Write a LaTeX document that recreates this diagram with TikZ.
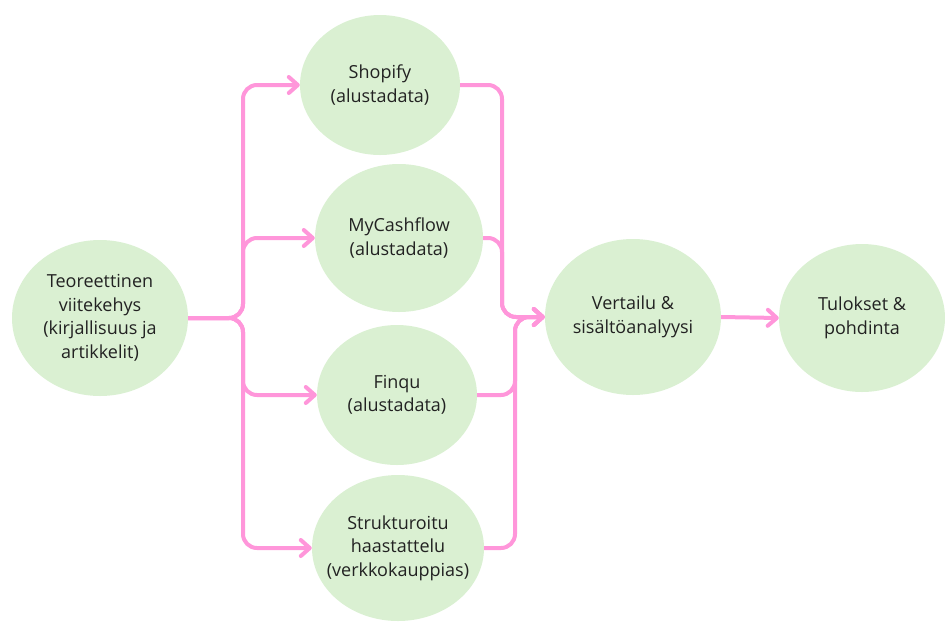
\documentclass[tikz,border=0pt]{standalone}
\usepackage{fontspec}
\setmainfont{Open Sans}
\usetikzlibrary{shapes.geometric,arrows.meta}
\definecolor{sage}{HTML}{DAF0D2}
\definecolor{rosa}{HTML}{FF96DA}
\definecolor{ink}{HTML}{222222}
\begin{document}
\begin{tikzpicture}[x=1pt,y=-1pt,
  blob/.style={ellipse,fill=sage,text=ink,align=center,inner sep=-30pt,font=\fontsize{18}{23.5}\selectfont},
  link/.style={rosa,line width=4pt,rounded corners=14pt,-{Straight Barb[length=9pt,width=16pt,round]}}]
\useasboundingbox (0,0) rectangle (945,622);
\node[blob,minimum width=176pt,minimum height=156pt] (teo) at (100,318) {Teoreettinen\\viitekehys\\(kirjallisuus ja\\artikkelit)};
\node[blob,minimum width=160pt,minimum height=140pt] (shop) at (380,85) {Shopify\\(alustadata)};
\node[blob,minimum width=168pt,minimum height=148pt] (myc) at (399,238) {MyCashflow\\(alustadata)};
\node[blob,minimum width=160pt,minimum height=140pt] (fin) at (397,395) {Finqu\\(alustadata)};
\node[blob,minimum width=172pt,minimum height=146pt] (struk) at (398,548) {Strukturoitu\\haastattelu\\(verkkokauppias)};
\node[blob,minimum width=176pt,minimum height=156pt] (vert) at (633,317) {Vertailu \&\\sisältöanalyysi};
\node[blob,minimum width=166pt,minimum height=148pt] (tul) at (862,318) {Tulokset \&\\pohdinta};
\coordinate (split) at (243,318);
\coordinate (joinA) at (502,317);
\coordinate (joinB) at (515,317);
% branches out of the framework
\draw[link] (teo.east) -- (split) |- (shop.west);
\draw[link] (teo.east) -- (split) |- (myc.west);
\draw[link] (teo.east) -- (split) |- (fin.west);
\draw[link] (teo.east) -- (split) |- (struk.west);
% everything into the comparison
\draw[link] (shop.east) -| (joinA) -- (vert.west);
\draw[link] (myc.east) -| (joinA) -- (vert.west);
\draw[link] (fin.east) -| (joinB) -- (vert.west);
\draw[link] (struk.east) -| (joinB) -- (vert.west);
\draw[link] (vert.east) -- (tul.west);
\end{tikzpicture}
\end{document}
